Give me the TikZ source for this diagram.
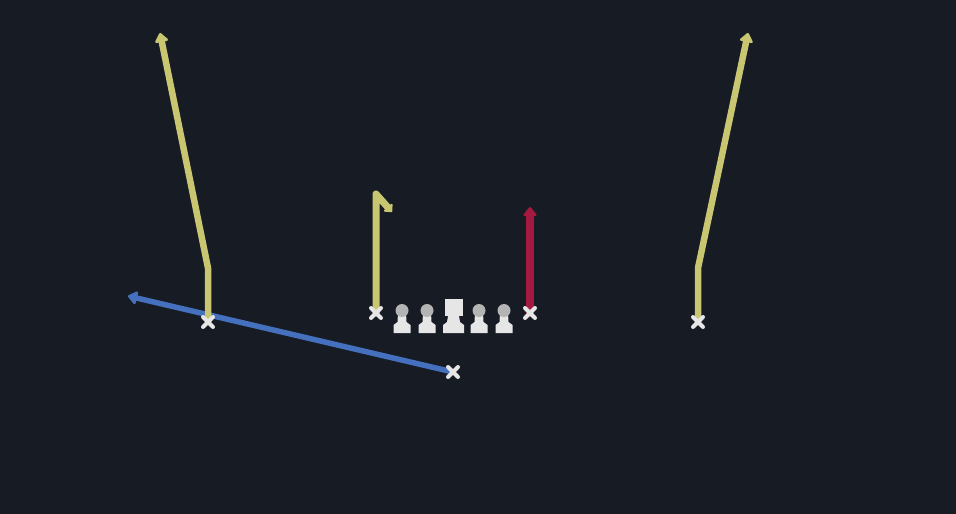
\documentclass[tikz,border=0pt]{standalone}
\usetikzlibrary{arrows.meta}
\definecolor{bg}{HTML}{161B24}
\definecolor{ylw}{HTML}{C9C672}
\definecolor{rte}{HTML}{A3193F}
\definecolor{blu}{HTML}{4470BE}
\definecolor{wht}{HTML}{E6E6E6}
\definecolor{hed}{HTML}{B4B4B4}
\tikzset{
  route/.style={line width=6.5pt, line join=round, line cap=round},
  tip/.style={-{Triangle[width=15pt,length=10pt,round]}},
  xmark/.style={line width=4pt, wht, line cap=round},
  lineman/.style={fill=wht},
}
\newcommand{\xmk}[2]{\draw[xmark] (#1-5,#2-5) -- (#1+5,#2+5) (#1-5,#2+5) -- (#1+5,#2-5);}
\begin{document}
\begin{tikzpicture}[x=1pt,y=-1pt]
\fill[bg] (0,0) rectangle (956,514);
\useasboundingbox (0,0) rectangle (956,514);
% players
\coordinate (lwr) at (208,322);
\coordinate (rwr) at (698,322);
\coordinate (slot) at (376,313);
\coordinate (te) at (530,313);
\coordinate (rb) at (453,372);
\coordinate (lbrk) at (208,268);
\coordinate (rbrk) at (698,268);
\coordinate (ltop) at (160,33);
\coordinate (rtop) at (748,33);
\coordinate (stop) at (376,194);
\coordinate (shk) at (392,212);
\coordinate (ttop) at (530,207);
\coordinate (btip) at (128,296);
% routes
\draw[route, blu, line width=5.5pt, tip] (rb) -- (btip);
\draw[route, ylw, tip] (lwr) -- (lbrk) -- (ltop);
\draw[route, ylw, tip] (rwr) -- (rbrk) -- (rtop);
\draw[route, ylw, line width=7pt, -{Triangle[width=13pt,length=7pt,round]}] (slot) -- (stop) -- (shk);
\draw[route, rte, line width=8pt, tip] (te) -- (ttop);
% X marks
\xmk{208}{322}
\xmk{698}{322}
\xmk{376}{313}
\xmk{530}{313}
\xmk{453}{372}
% linemen
\foreach \x in {402,427,479,504}{
  \fill[lineman] (\x-4,313) -- (\x+4,313) -- (\x+4.5,322) -- (\x+8.5,325) -- (\x+8.5,333) -- (\x-8.5,333) -- (\x-8.5,325) -- (\x-4.5,322) -- cycle;
  \fill[hed] (\x,310.5) circle (6.5);
}
\fill[lineman] (444.5,298.5) rectangle (462.5,316);
\fill[lineman] (448,316) -- (459,316) -- (460,322) -- (464,325) -- (464,333) -- (443,333) -- (443,325) -- (447,322) -- cycle;
\end{tikzpicture}
\end{document}
